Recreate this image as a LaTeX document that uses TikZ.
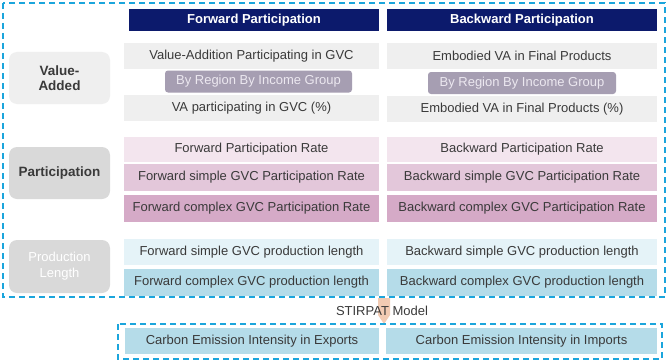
\documentclass[tikz,border=0pt]{standalone}
\usepackage{fontspec}
\setmainfont{Liberation Sans}
\begin{document}
\begin{tikzpicture}[x=1pt,y=-1pt,
  box/.style={draw=none,inner sep=0pt,outer sep=0pt,font=\fontsize{13}{15}\selectfont,text=txt},
  hdr/.style={box,fill=navy,text=white,font=\fontsize{13}{15}\selectfont\bfseries,minimum height=22pt},
  cat/.style={box,rounded corners=8pt,minimum width=101pt,minimum height=52pt,align=center},
  tab/.style={box,fill=tabc,text=tabt,rounded corners=3pt,minimum height=22pt},
  dbox/.style={draw=cyanc,line width=1.4pt,dash pattern=on 6pt off 4pt},
]
\definecolor{navy}{HTML}{0C1A6C}
\definecolor{txt}{HTML}{3A3A3A}
\definecolor{rowg}{HTML}{EFEFEF}
\definecolor{tabc}{HTML}{A69EB2}
\definecolor{tabt}{HTML}{ECE8F0}
\definecolor{p1}{HTML}{F3E5EE}
\definecolor{p2}{HTML}{E3C7DA}
\definecolor{p3}{HTML}{D5AAC7}
\definecolor{b1}{HTML}{E5F3F8}
\definecolor{b2}{HTML}{B5DCE9}
\definecolor{cyanc}{HTML}{1BA5DC}
\definecolor{peach}{HTML}{F2CBB3}
\useasboundingbox (0,0) rectangle (671,361);
\fill[white] (0,0) rectangle (671,361);

% headers
\node[hdr,minimum width=250pt] (hf) at (254,20) {Forward Participation};
\node[hdr,minimum width=270pt] (hb) at (522,20) {Backward Participation};

% value added
\node[box,fill=rowg,minimum width=255pt,minimum height=26pt] (v1) at (251.5,56) {Value-Addition Participating in GVC};
\node[box,fill=rowg,minimum width=270pt,minimum height=26pt] (w1) at (522,56) {Embodied VA in Final Products};
\node[box,fill=rowg,minimum width=255pt,minimum height=26pt] (v3) at (251.5,108) {VA participating in GVC (\%)};
\node[box,fill=rowg,minimum width=270pt,minimum height=26pt] (w3) at (522,109) {Embodied VA in Final Products (\%)};
\node[tab,minimum width=187pt] (v2) at (258.5,81.5) {By Region By Income Group};
\node[tab,minimum width=188pt] (w2) at (522,83) {By Region By Income Group};

% participation
\node[box,fill=p1,minimum width=255pt,minimum height=25pt] (f1) at (251.5,149.5) {Forward Participation Rate};
\node[box,fill=p1,minimum width=270pt,minimum height=25pt] (g1) at (522,149.5) {Backward Participation Rate};
\node[box,fill=p2,minimum width=255pt,minimum height=27pt] (f2) at (251.5,177.5) {Forward simple GVC Participation Rate};
\node[box,fill=p2,minimum width=270pt,minimum height=27pt] (g2) at (522,177.5) {Backward simple GVC Participation Rate};
\node[box,fill=p3,minimum width=255pt,minimum height=27pt] (f3) at (251.5,208) {Forward complex GVC Participation Rate};
\node[box,fill=p3,minimum width=270pt,minimum height=27pt] (g3) at (522,208) {Backward complex GVC Participation Rate};

% production length
\node[box,fill=b1,minimum width=255pt,minimum height=26pt] (l1) at (251.5,252) {Forward simple GVC production length};
\node[box,fill=b1,minimum width=270pt,minimum height=26pt] (m1) at (522,252) {Backward simple GVC production length};
\node[box,fill=b2,minimum width=255pt,minimum height=27pt] (l2) at (251.5,282) {Forward complex GVC production length};
\node[box,fill=b2,minimum width=270pt,minimum height=27pt] (m2) at (522,282) {Backward complex GVC production length};

% categories
\node[cat,fill=rowg,font=\fontsize{13.5}{15.5}\selectfont\bfseries] (cva) at (59.5,78) {Value-\\Added};
\node[cat,fill=black!15,font=\fontsize{13.5}{15.5}\selectfont\bfseries] (cpa) at (59.5,173) {Participation};
\node[cat,fill=black!15,text=white,font=\fontsize{13}{16}\selectfont,minimum height=53pt] (cpl) at (59.5,266.5) {Production\\Length};

% outer dashed box
\draw[dbox] (3,3) rectangle (665,297);

% arrow and STIRPAT
\fill[peach] (378,298) -- (390,298) -- (390,315) -- (384,324) -- (378,315) -- cycle;
\node[box,fill=none] (st) at (382,311) {STIRPAT Model};

% bottom
\node[box,fill=b2,minimum width=254pt,minimum height=26pt] (ce) at (252,341) {Carbon Emission Intensity in Exports};
\node[box,fill=b2,minimum width=271pt,minimum height=26pt] (ci) at (521.5,341) {Carbon Emission Intensity in Imports};
\draw[dbox] (118,324) rectangle (662,359);
\end{tikzpicture}
\end{document}
